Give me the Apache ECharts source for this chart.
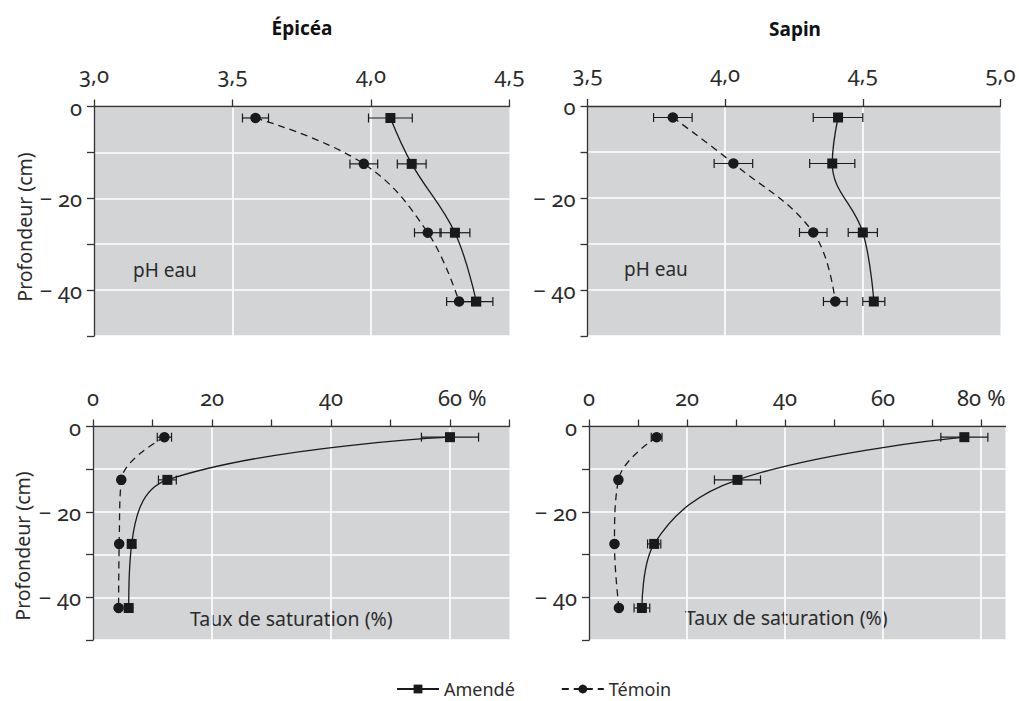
<!DOCTYPE html>
<html>
<head>
<meta charset="utf-8">
<script src="https://cdn.jsdelivr.net/npm/echarts@6/dist/echarts.min.js"></script>
<style>
html,body{margin:0;padding:0;background:#fff;}
#chart{width:1019px;height:701px;}
#chart text{font-feature-settings:"onum" 1 !important;}
</style>
</head>
<body>
<div id="chart"></div>
<script>
// Depths of the sampled layers (cm)
const depths = [-2.5, -12.5, -27.5, -42.5];
const yTicks = [0, -10, -20, -30, -40, -50];
const yLabels = [0, -20, -40];

// pH eau — Épicéa
const epiceaPhAmende = [4.07, 4.147, 4.303, 4.38];
const epiceaPhAmendeErr = [0.079, 0.052, 0.054, 0.06];
const epiceaPhTemoin = [3.583, 3.974, 4.205, 4.318];
const epiceaPhTemoinErr = [0.047, 0.05, 0.048, 0.045];
// pH eau — Sapin
const sapinPhAmende = [4.41, 4.389, 4.50, 4.54];
const sapinPhAmendeErr = [0.09, 0.082, 0.053, 0.04];
const sapinPhTemoin = [3.81, 4.03, 4.32, 4.40];
const sapinPhTemoinErr = [0.07, 0.07, 0.05, 0.043];
// Taux de saturation — Épicéa
const epiceaSatAmende = [60, 12.5, 6.5, 6.0];
const epiceaSatAmendeErr = [4.8, 1.5, 0.4, 0.4];
const epiceaSatTemoin = [12.0, 4.75, 4.4, 4.3];
const epiceaSatTemoinErr = [1.2, 0.4, 0.3, 0.3];
// Taux de saturation — Sapin
const sapinSatAmende = [76.6, 30.3, 13.3, 10.8];
const sapinSatAmendeErr = [4.8, 4.7, 1.35, 1.6];
const sapinSatTemoin = [13.8, 6.0, 5.2, 6.1];
const sapinSatTemoinErr = [1.1, 0.5, 0.4, 0.4];

// Axis ticks / labels
const phEpiceaTicks = [3.0, 3.5, 4.0, 4.5];
const phSapinTicks = [3.5, 4.0, 4.5, 5.0];
const satEpiceaTicks = [0, 10, 20, 30, 40, 50, 60, 70];
const satEpiceaLabels = [0, 20, 40, 60];
const satEpiceaGrid = [20, 40, 60];
const satSapinTicks = [0, 10, 20, 30, 40, 50, 60, 70, 80];
const satSapinLabels = [0, 20, 40, 60, 80];
const satSapinGrid = [20, 40, 60, 80];

const titles = ['Épicéa', 'Sapin'];
const seriesNames = ['Amendé', 'Témoin'];

const FONT = '"Noto Sans", "Open Sans", sans-serif';
const INK = '#1a1a1a';
const TXT = '#2b2b2b';
const BG = '#d3d4d6';
const LBL = 22;

const grids = [
  {left: 94, top: 106.5, width: 415.5, height: 229.5},
  {left: 587.5, top: 106, width: 415.5, height: 230},
  {left: 93, top: 426.5, width: 416.5, height: 213.5},
  {left: 589, top: 426.5, width: 416.5, height: 213.5}
].map(g => Object.assign(g, {show: true, backgroundColor: BG, borderWidth: 0}));

function pts(xs) { return xs.map((x, i) => [x, depths[i]]); }
function errPts(xs, es) { return xs.map((x, i) => [x, depths[i], es[i]]); }

const axisLineStyle = {color: '#333', width: 1.3};
const commaFmt = v => v.toFixed(1).replace('.', ',');
const lblStyle = {fontFamily: FONT, fontSize: LBL, color: TXT};

function xAxisBase(gi, min, max, interval, ticks, labels, fmt, margin) {
  return {
    type: 'value', gridIndex: gi, position: 'top', min: min, max: max, interval: interval,
    axisLine: {show: true, onZero: false, lineStyle: axisLineStyle},
    axisTick: {show: true, inside: false, length: 7, lineStyle: axisLineStyle, customValues: ticks},
    axisLabel: {show: true, margin: margin, fontFamily: FONT, fontSize: LBL, color: TXT,
      formatter: v => (labels.indexOf(v) >= 0 ? fmt(v) : ''),
      rich: {n: lblStyle, pad: {width: 24, fontSize: LBL, fontFamily: FONT}, pct: lblStyle}},
    splitLine: {show: false}
  };
}
function gridXAxis(gi, min, max, vals) {
  return {
    type: 'value', gridIndex: gi, position: 'bottom', min: min, max: max,
    axisLine: {show: false}, axisTick: {show: false, customValues: vals}, axisLabel: {show: false, customValues: vals},
    splitLine: {show: true, lineStyle: {color: '#fff', width: 1.6}}
  };
}
// "60 %" keeps the number on its tick; "80 %" is centred as a whole, as in the source
const pctFmtPad = last => (v => v === last ? '{pad|}{n|' + v + '}{pct| %}' : '{n|' + v + '}');
const pctFmt = last => (v => v === last ? '{n|' + v + '}{pct| %}' : '{n|' + v + '}');
const phFmt = v => '{n|' + commaFmt(v) + '}';

const xAxes = [
  xAxisBase(0, 3.0, 4.5, 0.5, phEpiceaTicks, phEpiceaTicks, phFmt, 22),
  xAxisBase(1, 3.5, 5.0, 0.5, phSapinTicks, phSapinTicks, phFmt, 22),
  xAxisBase(2, 0, 70, 10, satEpiceaTicks, satEpiceaLabels, pctFmtPad(60), 19),
  xAxisBase(3, 0, 85, 10, satSapinTicks, satSapinLabels, pctFmt(80), 19),
  gridXAxis(0, 3.0, 4.5, [3.5, 4.0]),
  gridXAxis(1, 3.5, 5.0, [4.0, 4.5]),
  gridXAxis(2, 0, 70, satEpiceaGrid),
  gridXAxis(3, 0, 85, satSapinGrid)
];

const yAxes = [0, 1, 2, 3].map(gi => ({
  type: 'value', gridIndex: gi, min: -50, max: 0, interval: 10,
  axisLine: {show: true, onZero: false, lineStyle: axisLineStyle},
  axisTick: {show: true, length: 7, lineStyle: axisLineStyle, customValues: yTicks},
  axisLabel: {margin: 12, fontFamily: FONT, fontSize: LBL, color: TXT, rich: {n: lblStyle},
    formatter: v => (yLabels.indexOf(v) < 0 ? '' : '{n|' + (v === 0 ? '0' : '\u2212 ' + Math.abs(v)) + '}')},
  splitLine: {show: true, lineStyle: {color: '#fff', width: 1.6}}
}));

function errRender(params, api) {
  const x = api.value(0), y = api.value(1), e = api.value(2);
  const a = api.coord([x - e, y]), b = api.coord([x + e, y]);
  const h = 4.5;
  const st = {stroke: INK, lineWidth: 1.2};
  return {type: 'group', children: [
    {type: 'line', shape: {x1: a[0], y1: a[1], x2: b[0], y2: b[1]}, style: st},
    {type: 'line', shape: {x1: a[0], y1: a[1] - h, x2: a[0], y2: a[1] + h}, style: st},
    {type: 'line', shape: {x1: b[0], y1: b[1] - h, x2: b[0], y2: b[1] + h}, style: st}
  ]};
}

const panels = [
  [epiceaPhAmende, epiceaPhAmendeErr, epiceaPhTemoin, epiceaPhTemoinErr],
  [sapinPhAmende, sapinPhAmendeErr, sapinPhTemoin, sapinPhTemoinErr],
  [epiceaSatAmende, epiceaSatAmendeErr, epiceaSatTemoin, epiceaSatTemoinErr],
  [sapinSatAmende, sapinSatAmendeErr, sapinSatTemoin, sapinSatTemoinErr]
];

const series = [];
panels.forEach((p, gi) => {
  series.push({
    name: seriesNames[0], type: 'line', xAxisIndex: gi, yAxisIndex: gi, data: pts(p[0]),
    smooth: 0.4, symbol: 'rect', symbolSize: 10, z: 4,
    itemStyle: {color: INK}, lineStyle: {color: INK, width: 1.3, type: 'solid'}, silent: true, animation: false
  });
  series.push({
    name: seriesNames[1], type: 'line', xAxisIndex: gi, yAxisIndex: gi, data: pts(p[2]),
    smooth: 0.4, symbol: 'circle', symbolSize: 10.5, z: 4,
    itemStyle: {color: INK}, lineStyle: {color: INK, width: 1.3, type: [7, 5]}, silent: true, animation: false
  });
  series.push({
    type: 'custom', xAxisIndex: gi, yAxisIndex: gi, data: errPts(p[0], p[1]), renderItem: errRender,
    encode: {x: 0, y: 1}, z: 3, silent: true, animation: false
  });
  series.push({
    type: 'custom', xAxisIndex: gi, yAxisIndex: gi, data: errPts(p[2], p[3]), renderItem: errRender,
    encode: {x: 0, y: 1}, z: 3, silent: true, animation: false
  });
});

const textStyle = (s, size, weight) => ({text: s, fontFamily: FONT, fontSize: size, fontWeight: weight || 'normal', fill: TXT});

const graphic = [
  {type: 'text', x: 302, y: 28, style: Object.assign(textStyle(titles[0], 19, 'bold'), {fill: '#111', align: 'center', verticalAlign: 'middle'})},
  {type: 'text', x: 795, y: 29, style: Object.assign(textStyle(titles[1], 19, 'bold'), {fill: '#111', align: 'center', verticalAlign: 'middle'})},
  {type: 'text', x: 24, y: 227, rotation: Math.PI / 2, style: Object.assign(textStyle('Profondeur (cm)', 19.5), {align: 'center', verticalAlign: 'middle'})},
  {type: 'text', x: 22, y: 546, rotation: Math.PI / 2, style: Object.assign(textStyle('Profondeur (cm)', 19.5), {align: 'center', verticalAlign: 'middle'})},
  {type: 'text', x: 133, y: 270, style: Object.assign(textStyle('pH eau', 19), {align: 'left', verticalAlign: 'middle'})},
  {type: 'text', x: 624, y: 269, style: Object.assign(textStyle('pH eau', 19), {align: 'left', verticalAlign: 'middle'})},
  {type: 'text', x: 190, y: 618, style: Object.assign(textStyle('Taux de saturation (%)', 19.5), {align: 'left', verticalAlign: 'middle'})},
  {type: 'text', x: 685, y: 617, style: Object.assign(textStyle('Taux de saturation (%)', 19.5), {align: 'left', verticalAlign: 'middle'})}
];

const chart = echarts.init(document.getElementById('chart'), null, {renderer: 'svg'});
chart.setOption({
  animation: false,
  backgroundColor: '#fff',
  grid: grids,
  xAxis: xAxes,
  yAxis: yAxes,
  series: series,
  graphic: graphic,
  legend: {
    data: seriesNames, left: 396, top: 680, padding: 0, itemWidth: 42, itemHeight: 11, itemGap: 46,
    textStyle: {fontFamily: FONT, fontSize: 18, color: TXT},
    selectedMode: false
  }
});
</script>
</body>
</html>
